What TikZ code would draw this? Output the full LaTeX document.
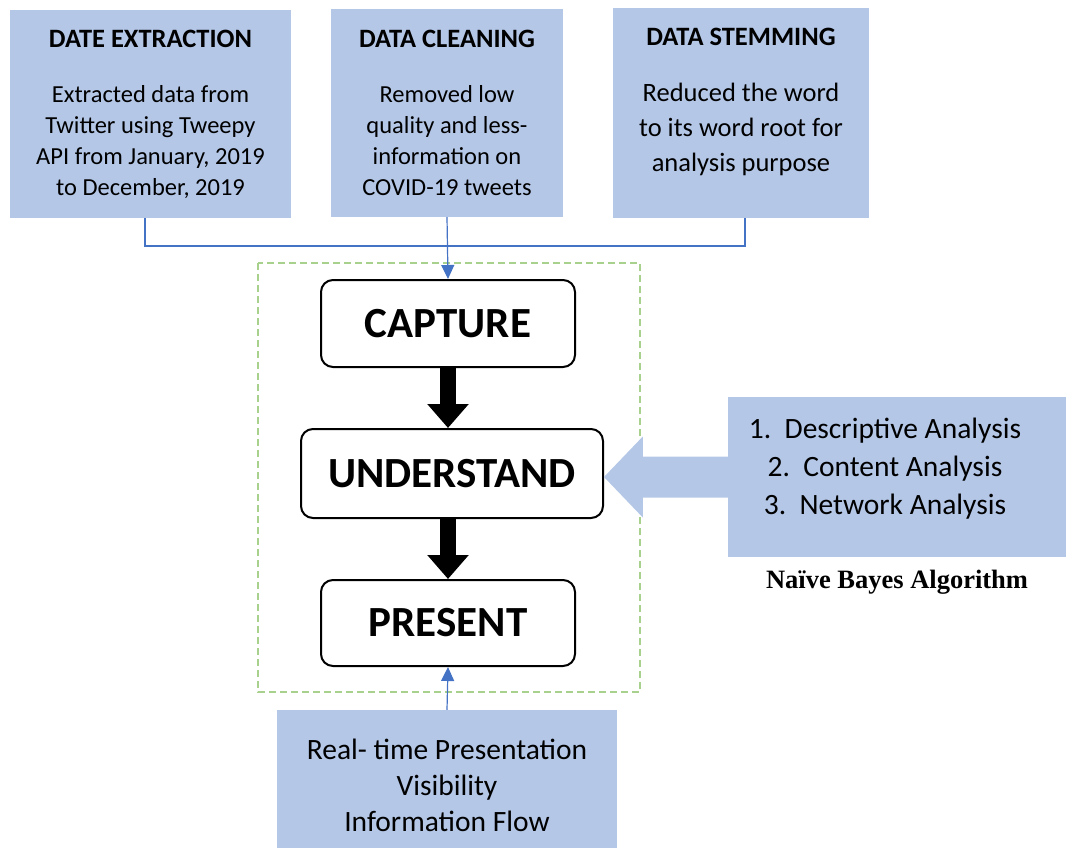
\documentclass[tikz,border=0pt]{standalone}
\usepackage{fontspec}
\usepackage{xcolor}
\usepackage{tikz}
\usetikzlibrary{arrows.meta,positioning,calc}
\setmainfont{Carlito}
\newfontfamily\serifbold{Liberation Serif}
\definecolor{boxBlue}{HTML}{B4C7E7}
\definecolor{lineBlue}{HTML}{4472C4}
\definecolor{dashGreen}{HTML}{A9D18E}

\begin{document}
\begin{tikzpicture}[x=1pt,y=-1pt,>={Triangle[width=13pt,length=14pt]},
  srcbox/.style={fill=boxBlue,inner sep=0pt,align=center},
  stagebox/.style={draw,line width=2pt,rounded corners=12pt,fill=white,inner sep=0pt,font=\fontsize{43}{48}\selectfont\bfseries},
  bigarrow/.style={line width=16pt,-{Triangle[width=40pt,length=24pt]}}]
\useasboundingbox (0,0) rectangle (1067,850);
% sources feeding the capture stage
\node[srcbox,minimum width=281pt,minimum height=208pt,font=\fontsize{24.5}{31}\selectfont] (extract) at (150.5,114) {\textbf{\fontsize{26.5}{31}\selectfont DATE EXTRACTION}\\[24pt]Extracted data from\\Twitter using Tweepy\\API from January, 2019\\to December, 2019};
\node[srcbox,minimum width=232pt,minimum height=208pt,font=\fontsize{24.5}{31}\selectfont] (clean) at (447,113) {\textbf{\fontsize{26.5}{31}\selectfont DATA CLEANING}\\[24pt]Removed low\\quality and less-\\information on\\COVID-19 tweets};
\node[srcbox,minimum width=256pt,minimum height=210pt,font=\fontsize{26.5}{35}\selectfont] (stem) at (741,113) {\textbf{\fontsize{26.5}{31}\selectfont DATA STEMMING}\\[21pt]Reduced the word\\to its word root for\\analysis purpose\\[-8pt]};
% the three stages
\draw[dashGreen,line width=1.5pt,dash pattern=on 7pt off 4pt] (258,263) rectangle (640,692);
\node[stagebox,minimum width=254pt,minimum height=87pt] (capture) at (448,323.5) {CAPTURE};
\node[stagebox,minimum width=302pt,minimum height=89pt] (understand) at (452,473.5) {UNDERSTAND};
\node[stagebox,minimum width=254pt,minimum height=86pt] (present) at (448,623) {PRESENT};
\draw[bigarrow] (capture.south) -- (capture.south |- understand.north);
\draw[bigarrow] (understand.south -| capture.south) -- (present.north);
% analysis callout
\node[srcbox,minimum width=338pt,minimum height=160pt,font=\fontsize{29.5}{38}\selectfont] (methods) at (897,477) {1.\ \ Descriptive Analysis\kern24pt\\2.\ \ Content Analysis\kern24pt\\3.\ \ Network Analysis\kern24pt\\[-16pt]};
\fill[boxBlue] ([yshift=20.5pt]methods.west) -- ([shift={(-85pt,20.5pt)}]methods.west) -- ([shift={(-85pt,40.5pt)}]methods.west)
  -- (understand.east |- methods.west) -- ([shift={(-85pt,-40.5pt)}]methods.west) -- ([shift={(-85pt,-20.5pt)}]methods.west) -- ([yshift=-20.5pt]methods.west) -- cycle;
\node[below=9pt of methods,font=\fontsize{26.5}{30}\serifbold\bfseries] (bayes) {Naïve Bayes Algorithm};
% outputs of the present stage
\node[srcbox,minimum width=340pt,minimum height=138pt,font=\fontsize{29.5}{36}\selectfont] (flow) at (447,779) {\rule{0pt}{33pt}Real- time Presentation\\Visibility\\Information Flow};
\coordinate (bus) at (447,246);
\draw[lineBlue,line width=1.2pt] ([xshift=-5.5pt]extract.south) |- (bus) -| ([xshift=4pt]stem.south);
\draw[lineBlue,line width=1.2pt,->] (clean.south) -- (capture.north);
\draw[lineBlue,line width=1.2pt,->] (flow.north) -- (present.south);
\end{tikzpicture}
\end{document}
